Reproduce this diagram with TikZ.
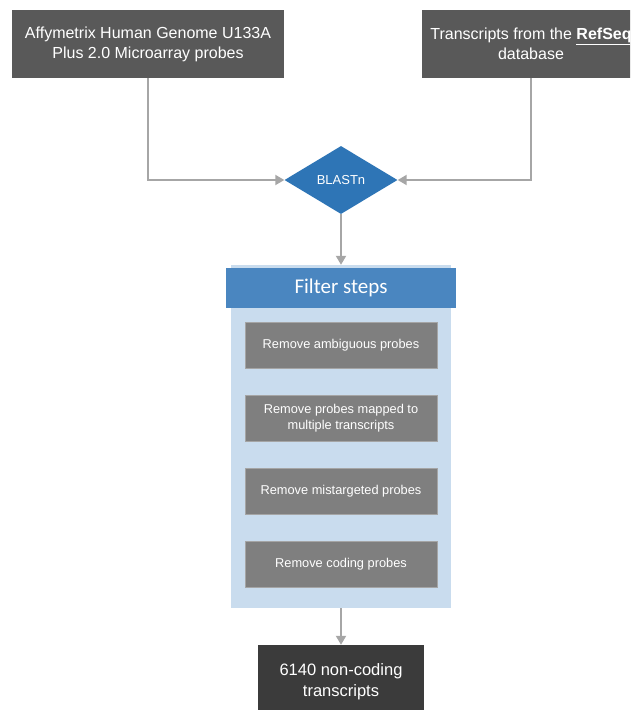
\documentclass[tikz,border=0pt]{standalone}
\usepackage{fontspec}
\setmainfont{Liberation Sans}
\newfontfamily\headfont{Carlito}
\usepackage{xcolor}
\usetikzlibrary{arrows.meta, shapes.geometric}
\definecolor{boxgrey}{HTML}{595959}
\definecolor{stepgrey}{HTML}{7F7F7F}
\definecolor{darkbox}{HTML}{3B3B3B}
\definecolor{blastblue}{HTML}{2E75B6}
\definecolor{headblue}{HTML}{4A86C0}
\definecolor{panelblue}{HTML}{C9DCEE}
\definecolor{linegrey}{HTML}{A6A6A6}

\begin{document}
\begin{tikzpicture}[x=1pt, y=-1pt,
  source/.style={fill=boxgrey, text=white, align=center, inner sep=0pt,
    minimum height=68pt, font=\fontsize{16}{20}\selectfont},
  stepbox/.style={fill=stepgrey, draw=stepgrey!70, text=white, align=center,
    inner sep=0pt, minimum width=192pt, minimum height=46pt,
    font=\fontsize{12.8}{16}\selectfont},
  conn/.style={draw=linegrey, line width=2pt, -{Triangle[length=9pt, width=10pt]}}]
  \useasboundingbox (0,0) rectangle (630,710);
  \clip (0,0) rectangle (630,710);

  % inputs
  \node[source, minimum width=272pt] (affy) at (148,44)
    {Affymetrix Human Genome U133A\\Plus 2.0 Microarray probes};
  \node[source, minimum width=218pt] (refseq) at (531,44)
    {Transcripts from the \underline{\textbf{RefSeq}}\\database};

  % alignment
  \node[diamond, fill=blastblue, text=white, inner sep=0pt,
    minimum width=113pt, minimum height=68pt, aspect=1.66,
    font=\fontsize{13}{15}\selectfont] (blast) at (341,180) {BLASTn};

  % filter panel
  \node[fill=panelblue, minimum width=220pt, minimum height=343pt,
    inner sep=0pt] (filter) at (341,436.5) {};
  \node[fill=headblue, text=white, minimum width=230pt, minimum height=40pt,
    inner sep=0pt, font=\headfont\fontsize{21}{24}\selectfont] (head)
    at (341,288) {Filter steps};
  \node[stepbox] (ambig) at (341,345) {Remove ambiguous probes};
  \node[stepbox] (multi) at (341,418) {Remove probes mapped to\\multiple transcripts};
  \node[stepbox] (mistar) at (341,491) {Remove mistargeted probes};
  \node[stepbox] (coding) at (341,564) {Remove coding probes};

  % result
  \node[fill=darkbox, text=white, align=center, inner sep=0pt,
    minimum width=166pt, minimum height=74pt,
    font=\fontsize{16.5}{21}\selectfont] (result) at (341,682)
    {6140 non-coding\\transcripts};

  % connectors
  \draw[conn] (affy.south) |- (blast.west);
  \draw[conn] (refseq.south) |- (blast.east);
  \draw[conn] (blast.south) -- (filter.north);
  \draw[conn] (filter.south) -- (result.north);
\end{tikzpicture}
\end{document}
